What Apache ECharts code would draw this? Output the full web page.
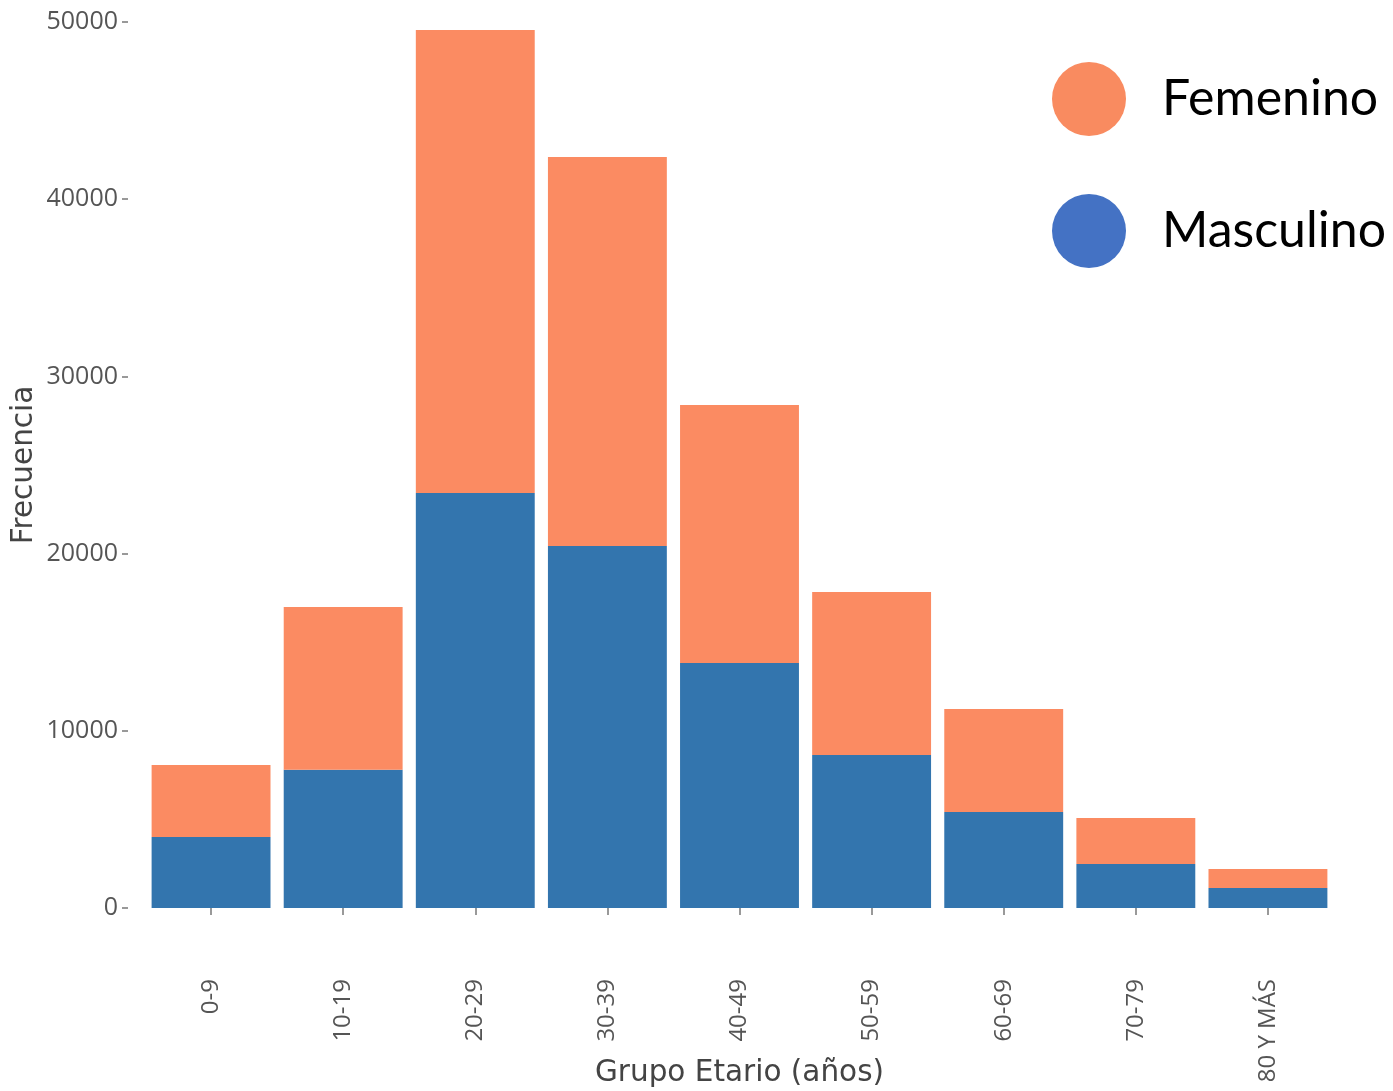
<!DOCTYPE html>
<html>
<head>
<meta charset="utf-8">
<script src="https://cdn.jsdelivr.net/npm/echarts@6/dist/echarts.min.js"></script>
<style>html,body{margin:0;padding:0;background:#fff;}#chart{width:1393px;height:1091px;}</style>
</head>
<body>
<div id="chart"></div>
<script>
const categories = ['0-9','10-19','20-29','30-39','40-49','50-59','60-69','70-79','80 Y MÁS'];
const masculino = [4000, 7800, 23420, 20430, 13830, 8630, 5420, 2480, 1130];
const femenino = [4070, 9190, 26130, 21950, 14560, 9200, 5810, 2600, 1070];
const yTicks = [0, 10000, 20000, 30000, 40000, 50000];

const chart = echarts.init(document.getElementById('chart'));
chart.setOption({
  animation: false,
  backgroundColor: '#fff',
  grid: { left: 145, right: 59, top: 22, bottom: 183, containLabel: false, outerBoundsMode: 'none' },
  legend: {
    orient: 'vertical', left: 1047, top: 57,
    icon: 'circle', itemWidth: 74, itemHeight: 74, itemGap: 58,
    textStyle: { fontFamily: 'Lato', fontSize: 50, color: '#000', padding: [0,0,0,31] },
    data: [
      { name: 'Femenino', itemStyle: { color: '#F98B60' } },
      { name: 'Masculino', itemStyle: { color: '#4472C4' } }
    ],
    selectedMode: false
  },
  xAxis: {
    type: 'category', data: categories, offset: 47,
    axisLine: { show: false },
    axisTick: { show: true, length: 7, alignWithLabel: true, lineStyle: { color: '#999', width: 2 } },
    axisLabel: { rotate: 90, margin: 24, fontFamily: 'Open Sans', fontSize: 24, color: '#555' },
    name: 'Grupo Etario (años)', nameLocation: 'middle', nameGap: 103, nameMoveOverlap: false,
    nameTextStyle: { fontFamily: 'DejaVu Sans', fontSize: 29.5, color: '#444' }
  },
  yAxis: {
    type: 'value', min: 0, max: 50000, interval: 10000, offset: 17,
    axisLine: { show: false },
    axisTick: { show: true, length: 6, lineStyle: { color: '#999', width: 2 } },
    axisLabel: { margin: 10, fontFamily: 'Open Sans', fontSize: 25, color: '#555',
      formatter: v => yTicks.includes(v) ? String(v) : '' },
    splitLine: { show: false },
    name: 'Frecuencia', nameLocation: 'middle', nameGap: 89, nameMoveOverlap: false,
    nameTextStyle: { fontFamily: 'DejaVu Sans', fontSize: 29.5, color: '#444' }
  },
  series: [
    { name: 'Masculino', type: 'bar', stack: 'total', data: masculino, barCategoryGap: '10%',
      itemStyle: { color: '#3375AE' } },
    { name: 'Femenino', type: 'bar', stack: 'total', data: femenino, barCategoryGap: '10%',
      itemStyle: { color: '#FB8B62' } }
  ]
});
</script>
</body>
</html>
